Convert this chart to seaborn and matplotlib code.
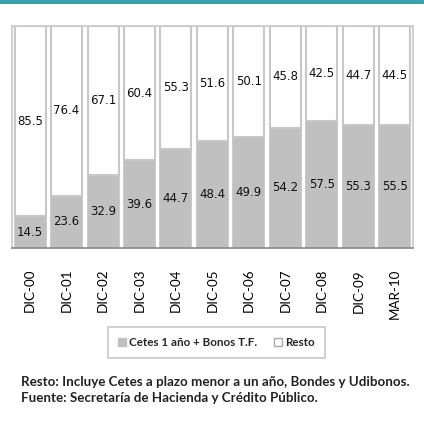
import numpy as np
import pandas as pd
import seaborn as sns
import matplotlib.pyplot as plt
from matplotlib.patches import Patch, Rectangle

periodos = ["DIC-00", "DIC-01", "DIC-02", "DIC-03", "DIC-04", "DIC-05",
            "DIC-06", "DIC-07", "DIC-08", "DIC-09", "MAR-10"]
cetes_bonos = [14.5, 23.6, 32.9, 39.6, 44.7, 48.4, 49.9, 54.2, 57.5, 55.3, 55.5]
resto = [85.5, 76.4, 67.1, 60.4, 55.3, 51.6, 50.1, 45.8, 42.5, 44.7, 44.5]

df = pd.DataFrame({"periodo": periodos, "cetes": cetes_bonos, "resto": resto})

sns.set_style("white")
plt.rcParams["font.family"] = ["Lato", "DejaVu Sans"]

fig = plt.figure(figsize=(4.24, 4.22), dpi=100)
ax = fig.add_axes([0.028, 0.412, 0.946, 0.526])

gris = "#c0c0c0"
borde = "#c8c8c8"

sns.barplot(data=df, x="periodo", y="cetes", color=gris, width=0.85,
            saturation=1, edgecolor=gris, linewidth=1.2, ax=ax)
sns.barplot(data=df, x="periodo", y="resto", color="white", width=0.85,
            saturation=1, edgecolor=borde, linewidth=1.5,
            bottom=df["cetes"].values, ax=ax)

for cont in ax.containers:
    ax.bar_label(cont, fmt="%.1f", label_type="center", fontsize=8.5,
                 family="DejaVu Sans", color="#111111")

ax.set_xlim(-0.5, len(periodos) - 0.5)
ax.set_ylim(0, 100)
ax.set_xlabel("")
ax.set_ylabel("")
ax.set_yticks([])

# ticks between categories, labels centred
ax.set_xticks(np.arange(-0.5, len(periodos), 1.0))
ax.set_xticklabels([])
ax.set_xticks(np.arange(len(periodos)), minor=True)
ax.set_xticklabels(periodos, minor=True, rotation=90, fontsize=9.6,
                   color="black")
ax.tick_params(axis="x", which="major", direction="out", length=4,
               color="#888888", width=1)
ax.tick_params(axis="x", which="minor", length=0, pad=15)

for s in ["left", "top", "right"]:
    ax.spines[s].set_color(borde)
    ax.spines[s].set_linewidth(1.2)
ax.spines["bottom"].set_color("#888888")
ax.spines["bottom"].set_linewidth(1.2)

handles = [Patch(facecolor=gris, edgecolor=gris, label="Cetes 1 año + Bonos T.F."),
           Patch(facecolor="white", edgecolor="#aaaaaa", label="Resto")]
leg = fig.legend(handles=handles, loc="upper center", bbox_to_anchor=(0.51, 1 - 321 / 422),
                 ncol=2, fancybox=False, handlelength=0.7, handleheight=0.7,
                 handletextpad=0.3, columnspacing=1.4, borderpad=0.85,
                 prop={"family": "Lato", "weight": "bold", "size": 8.4})
leg.get_frame().set_edgecolor("#bbbbbb")
leg.get_frame().set_linewidth(1.2)

fig.text(0.05, 1 - 382 / 422, "Resto: Incluye Cetes a plazo menor a un año, Bondes y Udibonos.",
         fontsize=9.6, fontweight="bold", va="center", color="#222222")
fig.text(0.05, 1 - 398 / 422, "Fuente: Secretaría de Hacienda y Crédito Público.",
         fontsize=9.6, fontweight="bold", va="center", color="#222222")

fig.add_artist(Rectangle((0, 1 - 4 / 422), 1, 4 / 422, transform=fig.transFigure,
                         facecolor="#3aa3b0", edgecolor="none"))

fig.savefig("out.png", dpi=100)
